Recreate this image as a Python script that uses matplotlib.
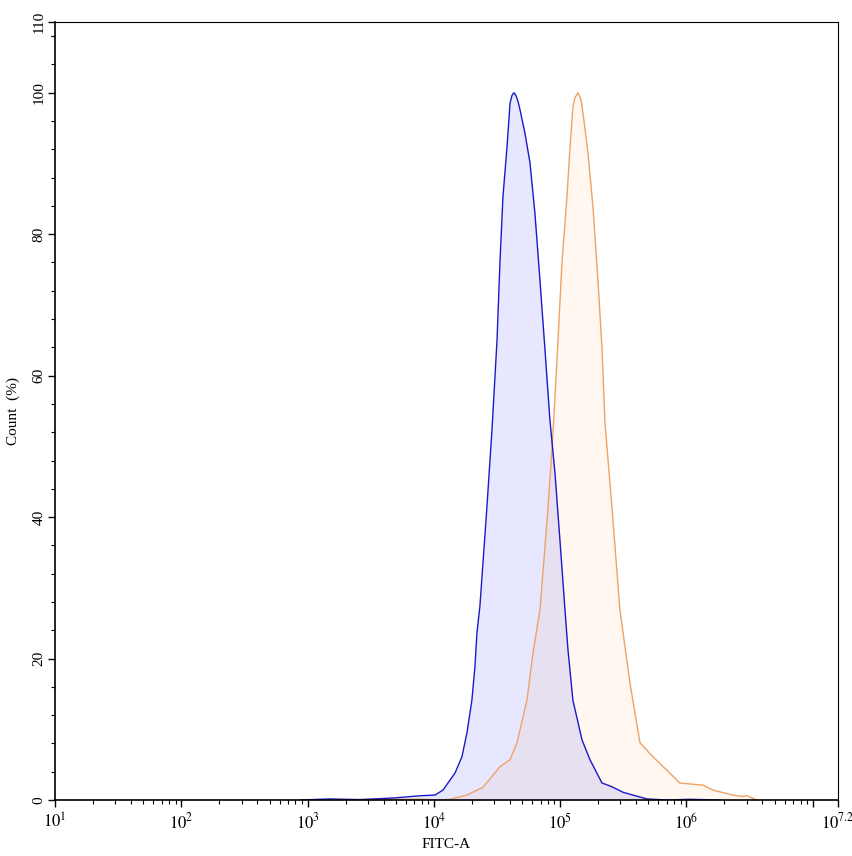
import numpy as np
import matplotlib
matplotlib.use("Agg")
import matplotlib.pyplot as plt
from matplotlib.ticker import FixedLocator, NullFormatter

plt.rcParams['font.family'] = ['Liberation Serif', 'DejaVu Serif']
plt.rcParams['mathtext.fontset'] = 'stix'

# log10(FITC-A) positions and Count (%) values
blue_log = [2.940, 3.177, 3.415, 3.692, 3.890, 4.009, 4.072, 4.167, 4.222, 4.262, 4.301,
            4.325, 4.341, 4.365, 4.420, 4.460, 4.500, 4.523, 4.547, 4.579, 4.603, 4.618,
            4.634, 4.650, 4.666, 4.682, 4.721, 4.761, 4.800, 4.840, 4.880, 4.919, 4.959,
            4.998, 5.038, 5.062, 5.101, 5.173, 5.236, 5.331, 5.378, 5.418, 5.497, 5.576,
            5.687, 5.846, 6.028, 6.265]
blue_cnt = [0.0, 0.15, 0.05, 0.3, 0.6, 0.7, 1.4, 3.8, 6.1, 9.5, 14.1,
            18.8, 23.6, 27.5, 41.4, 52.3, 65.0, 75.9, 85.3, 92.3, 98.5, 99.6,
            100.0, 99.6, 98.8, 97.6, 94.3, 90.1, 83.0, 73.5, 63.6, 53.7, 46.2,
            36.8, 26.9, 21.2, 14.1, 8.5, 5.7, 2.4, 2.1, 1.8, 1.1, 0.7,
            0.15, 0.0, 0.1, 0.0]

orange_log = [3.0, 3.573, 3.9, 4.048, 4.127, 4.262, 4.389, 4.523, 4.603, 4.658, 4.737,
              4.785, 4.840, 4.895, 4.935, 4.959, 4.983, 5.014, 5.054, 5.078, 5.101, 5.117,
              5.141, 5.165, 5.181, 5.220, 5.260, 5.299, 5.331, 5.355, 5.410, 5.473, 5.553,
              5.632, 5.735, 5.846, 5.948, 6.131, 6.210, 6.368, 6.440, 6.479, 6.558]
orange_cnt = [0.0, 0.1, 0.1, 0.0, 0.1, 0.7, 1.8, 4.7, 5.7, 8.1, 14.1,
              20.8, 26.9, 39.2, 49.5, 57.0, 65.0, 75.9, 85.3, 92.3, 98.0, 99.3,
              100.0, 99.0, 97.1, 91.5, 83.8, 73.5, 64.0, 53.3, 41.4, 26.9, 16.5,
              8.1, 6.1, 4.2, 2.4, 2.1, 1.4, 0.7, 0.5, 0.6, 0.0]

x_major = [1, 2, 3, 4, 5, 6, 7, 7.2]
x_labels = [r'$10^{1}$', r'$10^{2}$', r'$10^{3}$', r'$10^{4}$', r'$10^{5}$', r'$10^{6}$', '', r'$10^{7.2}$']
y_major = [0, 20, 40, 60, 80, 100, 110]

fig = plt.figure(figsize=(8.53, 8.56), dpi=100)
ax = fig.add_axes([55/853, 56/856, 783/853, 778/856])

bx = 10 ** np.array(blue_log)
ox = 10 ** np.array(orange_log)

ax.fill_between(ox, orange_cnt, color=(1.0, 0.62, 0.25), alpha=0.08, lw=0)
ax.fill_between(bx, blue_cnt, color=(0.1, 0.1, 1.0), alpha=0.10, lw=0)
ax.plot(ox, orange_cnt, color='#eda366', lw=1.0)
ax.plot(bx, blue_cnt, color='#1a1ac8', lw=1.0)

ax.set_xscale('log')
ax.set_xlim(10**1, 10**7.2)
ax.set_ylim(0, 110)

ax.xaxis.set_major_locator(FixedLocator([10**v for v in x_major]))
ax.set_xticklabels(x_labels)
minor = []
for d in range(1, 8):
    for m in range(2, 10):
        val = m * 10**d
        if val < 10**7.2:
            minor.append(val)
ax.xaxis.set_minor_locator(FixedLocator(minor))
ax.xaxis.set_minor_formatter(NullFormatter())

ax.set_yticks(y_major)
ax.set_yticks([v for v in range(0, 110, 4) if v % 20 != 0] + [108], minor=True)
for lab in ax.get_yticklabels():
    lab.set_rotation(90)
    lab.set_va('center')

ax.tick_params(axis='both', which='major', direction='out', length=5, width=1, labelsize=11)
ax.tick_params(axis='both', which='minor', direction='out', length=3, width=0.8)
ax.tick_params(axis='x', which='major', labelsize=12, pad=4)
ax.tick_params(axis='y', which='major', pad=2)

for s in ax.spines.values():
    s.set_linewidth(0.8)
ax.spines['left'].set_linewidth(1.2)
ax.spines['bottom'].set_linewidth(1.2)

ax.set_xlabel('FITC-A', fontsize=11, labelpad=4)
ax.set_ylabel('Count  (%)', fontsize=11, labelpad=9)

fig.savefig('out.png', dpi=100)
